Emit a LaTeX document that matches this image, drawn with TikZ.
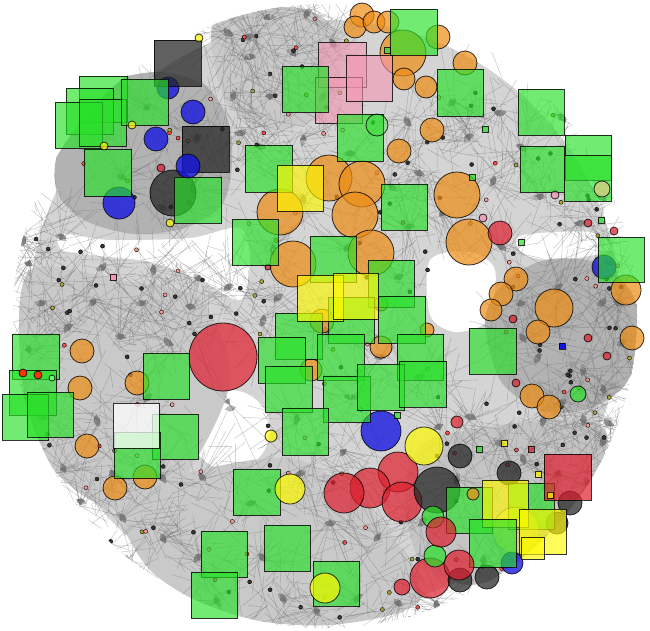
\documentclass[tikz,border=0pt]{standalone}
\usetikzlibrary{arrows.meta}
\definecolor{gfill}{RGB}{40,225,40}
\definecolor{ofill}{RGB}{238,140,20}
\definecolor{rfill}{RGB}{222,30,45}
\definecolor{bfill}{RGB}{20,20,225}
\definecolor{kfill}{RGB}{35,35,35}
\definecolor{yfill}{RGB}{255,250,0}
\definecolor{pfill}{RGB}{245,150,180}
\tikzset{
  shp/.style={draw=black, line width=0.8pt, draw opacity=0.8},
  gsq/.style={shp, fill=gfill, fill opacity=0.66},
  ysq/.style={shp, fill=yfill, fill opacity=0.65},
  ksq/.style={shp, fill=kfill, fill opacity=0.72},
  psq/.style={shp, fill=pfill, fill opacity=0.6},
  wsq/.style={shp, fill=white, fill opacity=0.75},
  rsq/.style={shp, fill=rfill, fill opacity=0.7},
  oc/.style={shp, fill=ofill, fill opacity=0.7},
  rc/.style={shp, fill=rfill, fill opacity=0.7},
  bc/.style={shp, fill=bfill, fill opacity=0.78},
  kc/.style={shp, fill=kfill, fill opacity=0.72},
  yc/.style={shp, fill=yfill, fill opacity=0.7},
  gc/.style={shp, fill=gfill, fill opacity=0.7},
  pc/.style={shp, fill=pfill, fill opacity=0.75},
  fy/.style={draw=black, draw opacity=0.25, fill=yfill, fill opacity=0.3},
  edge/.style={draw=black!60, line width=0.4pt, opacity=0.42},
  aedge/.style={draw=black!55, line width=0.4pt, opacity=0.45, -{Triangle[length=6pt,width=5pt]}},
  dot/.style={draw=black, line width=0.4pt},
}
\pgfmathdeclarerandomlist{dc}{{black!80}{black!80}{black!80}{red!70}{pink!80!red}{olive!70}{black!80}}
\begin{document}
\begin{tikzpicture}[x=1pt,y=-1pt]
\useasboundingbox (0,0) rectangle (650,630);
\fill[white] (0,0) rectangle (650,630);
\pgfmathsetseed{4711}
\begin{scope}
\clip (325,316) circle[radius=312pt];
% base light gray field
\fill[black!17] (325,316) circle[radius=296pt];
% white gaps
\fill[white] plot[smooth cycle] coordinates {(62,234) (110,240) (190,238) (240,228) (250,262) (240,300) (200,280) (150,262) (100,256) (62,250)};
\fill[white] plot[smooth cycle] coordinates {(0,0) (235,0) (215,30) (152,38) (140,70) (100,76) (60,100) (45,160) (40,205) (0,210)};
\fill[white] (230,430) circle[radius=40pt];
\fill[white] plot[smooth cycle] coordinates {(430,260) (470,252) (495,270) (488,320) (455,332) (430,315)};
\fill[white] plot[smooth cycle] coordinates {(520,236) (590,232) (610,250) (560,260) (525,255)};
% dense blobs
\fill[black!30] plot[smooth cycle] coordinates {(55,165) (70,118) (110,82) (160,72) (205,85) (228,120) (232,165) (222,205) (185,228) (135,234) (88,222) (60,198)};
\fill[black!30] plot[smooth cycle] coordinates {(485,320) (505,282) (545,260) (595,262) (630,290) (642,335) (625,385) (585,410) (540,410) (500,380)};
\fill[black!23] plot[smooth cycle] coordinates {(420,445) (480,428) (560,420) (605,430) (600,470) (580,520) (540,560) (470,585) (420,560) (405,500)};
\fill[black!21] plot[smooth cycle] coordinates {(30,270) (120,280) (200,300) (230,380) (190,470) (150,510) (90,500) (40,450) (20,360)};
\fill[black!21] plot[smooth cycle] coordinates {(120,500) (200,470) (300,460) (380,520) (420,600) (330,625) (230,615) (150,570)};
\fill[black!21] plot[smooth cycle] coordinates {(215,20) (300,8) (340,40) (330,110) (270,130) (225,100)};
% edges
\foreach \hx/\hy in {230/30,270/20,310/15,250/60,290/55,230/95,270/100,320/95,300/140,350/150,410/120,450/100,470/140,500/110,520/150,490/180,540/200,580/220,600/200,560/120,420/170,390/190,440/210,
  90/120,150/110,120/180,190/190,200/140,160/210,
  30/260,60/240,100/265,150/270,200/275,40/300,90/300,140/300,190/310,230/290,25/350,70/330,120/340,170/340,40/420,60/470,100/420,150/400,110/470,160/480,120/520,80/505,200/480,
  260/150,300/200,350/250,280/300,330/330,380/360,420/380,350/400,300/420,260/320,400/280,410/230,270/250,240/130,
  160/540,200/560,220/600,260/560,280/600,320/610,360/600,400/600,440/605,250/500,300/470,340/450,330/520,380/540,420/520,460/480,500/440,540/420,580/420,600/440,560/470,520/460,470/420,440/430,480/560,520/560,550/540,590/480,360/480,
  520/300,560/290,600/300,620/340,540/360,580/370,520/340,560/400,600/390,610/260,500/250,
  20/400,130/560,250/40,330/45,610/420,620/300,20/240} {
  \foreach \k in {1,...,24} {
    \pgfmathsetmacro\aa{rnd*360}
    \pgfmathsetmacro\rr{rnd*35}
    \pgfmathsetmacro\bb{rnd*360}
    \pgfmathsetmacro\ll{10+rnd*45}
    \draw[edge] (\hx,\hy) ++(\aa:\rr pt) -- ++(\bb:\ll pt);
  }
  \pgfmathsetmacro\hh{rnd*360}
  \foreach \k in {1,...,8} {
    \pgfmathsetmacro\bb{\hh+rnd*120}
    \pgfmathsetmacro\ll{15+rnd*45}
    \draw[aedge] (\hx,\hy) ++(\bb:\ll pt) -- (\hx,\hy);
  }
  \pgfmathsetmacro\aa{rnd*360}
  \pgfmathsetmacro\rr{5+rnd*25}
  \pgfmathrandomitem{\dcol}{dc}
  \fill[dot, fill=\dcol] (\hx,\hy) ++(\aa:\rr pt) circle[radius=2pt];
  \pgfmathsetmacro\aa{rnd*360}
  \pgfmathsetmacro\rr{10+rnd*30}
  \pgfmathrandomitem{\dcol}{dc}
  \fill[dot, fill=\dcol] (\hx,\hy) ++(\aa:\rr pt) circle[radius=2pt];
}
\end{scope}
% long crossing arrows into the white gap
\foreach \sx/\sy in {150/280,180/300,260/470,300/470,200/470,120/300} {
  \draw[aedge] (\sx,\sy) -- (230,405);
}
% ---------- circles (behind) ----------
\foreach \x/\y/\r in {362/15/12,355/27/11,374/22/11,388/22/11,403/53/23,438/37/12,404/79/11,426/87/11,465/63/12,432/130/12,399/151/12,
  457/195/23,469/242/23,329/178/23,362/184/23,280/212/23,355/215/23,293/264/23,371/253/23,
  322/321/12,381/304/7,427/330/7,381/347/11,311/370/11,
  554/308/19,626/290/15,632/338/12,516/279/12,501/294/12,491/310/11,532/396/12,549/407/12,538/332/12,
  82/351/12,80/388/12,137/383/12,87/446/12,115/488/12,145/477/12}
  \draw[oc] (\x,\y) circle[radius=\r pt];
\foreach \x/\y/\r in {223/357/34,500/233/12,398/472/20,370/488/20,344/493/20,402/502/20,430/578/20,402/587/8,457/422/6,
  161/168/4,588/223/4,614/231/4,513/319/4,588/338/4,607/356/4,516/383/4,268/267/3}
  \draw[rc] (\x,\y) circle[radius=\r pt];
\foreach \x/\y/\r in {168/88/11,193/112/12,156/139/12,119/203/16,604/267/12,381/431/20,512/563/11}
  \draw[bc] (\x,\y) circle[radius=\r pt];
\foreach \x/\y/\r in {173/193/23,460/456/12,437/490/23,509/473/12,570/503/12,557/523/11,460/580/12,487/577/12}
  \draw[kc] (\x,\y) circle[radius=\r pt];
% ---------- squares ----------
\draw[ksq] (154,40) rectangle (201,86);
\draw[ksq] (182,126) rectangle (229,172);
\draw[psq] (318,42) rectangle (366,87);
\draw[psq] (315,77) rectangle (362,123);
\draw[psq] (346,55) rectangle (392,101);
\foreach \xa/\ya/\xb/\yb in {79/76/127/122,66/88/113/134,55/102/102/148,79/99/126/146,121/79/168/125,84/149/131/196,174/177/221/223,
  245/145/292/192,232/219/278/265,282/66/328/112,390/9/437/55,437/69/483/116,518/89/564/135,520/146/564/192,565/135/611/180,564/155/611/201,337/114/383/161,381/184/427/230,598/237/644/282,
  310/236/356/282,368/260/414/307,328/297/374/343,378/296/425/343,275/313/322/359,258/337/305/383,317/334/364/380,397/334/443/380,265/366/312/412,323/376/370/422,357/364/404/410,399/361/446/407,282/408/328/455,
  469/328/516/374,
  12/334/59/379,9/370/56/415,2/394/48/440,27/392/73/437,143/353/189/399,152/414/198/459,114/432/160/478,
  233/469/280/515,201/531/247/577,191/572/237/618,264/525/310/571,313/561/359/606,
  446/487/492/533,508/483/554/529}
  \draw[gsq] (\xa,\ya) rectangle (\xb,\yb);
\draw[wsq] (113,403) rectangle (159,448);
\draw[ysq] (277,165) rectangle (323,211);
\draw[ysq] (297,275) rectangle (343,321);
\draw[ysq] (333,273) rectangle (378,319);
\draw[ysq] (482,480) rectangle (528,527);
\draw[rsq] (544,454) rectangle (591,500);
\draw[fy] (516,530) circle[radius=23pt];
\draw[ysq] (519,509) rectangle (566,554);
\draw[ysq] (521,537) rectangle (544,559);
\draw[gsq] (469,519) rectangle (516,567);
% ---------- circles (front) ----------
\draw[bc] (188,166) circle[radius=12pt];
\draw[gc, fill opacity=0.35] (377,125) circle[radius=11pt];
\draw[shp, fill=olive!40, fill opacity=0.8] (602,189) circle[radius=8pt];
\foreach \x/\y/\r in {578/394/8,433/517/11,435/556/11}
  \draw[gc] (\x,\y) circle[radius=\r pt];
\foreach \x/\y/\r in {441/532/15,459/565/15}
  \draw[rc] (\x,\y) circle[radius=\r pt];
\draw[oc] (473,494) circle[radius=6pt];
\foreach \x/\y/\r in {424/446/19,290/489/15,325/588/15,271/436/6,132/125/4,104/146/4,170/223/4,199/38/4}
  \draw[yc] (\x,\y) circle[radius=\r pt];
\foreach \x/\y in {555/195,483/218}
  \draw[pc] (\x,\y) circle[radius=4pt];
\foreach \x/\y in {23/373,38/375}
  \draw[shp, fill=red!60!orange] (\x,\y) circle[radius=4pt];
\draw[shp, fill=green!60] (52,378) circle[radius=3pt];
% small squares
\foreach \x/\y in {485/129,472/177,521/242,601/220,387/50,397/415,479/449}
  \draw[shp, fill=gfill, fill opacity=0.7] (\x-3,\y-3) rectangle (\x+3,\y+3);
\foreach \x/\y in {504/443,538/474,550/495}
  \draw[shp, fill=yfill, fill opacity=0.7] (\x-3,\y-3) rectangle (\x+3,\y+3);
\draw[shp, fill=rfill, fill opacity=0.7] (528,446) rectangle (534,452);
\draw[shp, fill=pfill] (110,274) rectangle (116,280);
\draw[shp, fill=bfill] (559,343) rectangle (565,349);
\end{tikzpicture}
\end{document}
